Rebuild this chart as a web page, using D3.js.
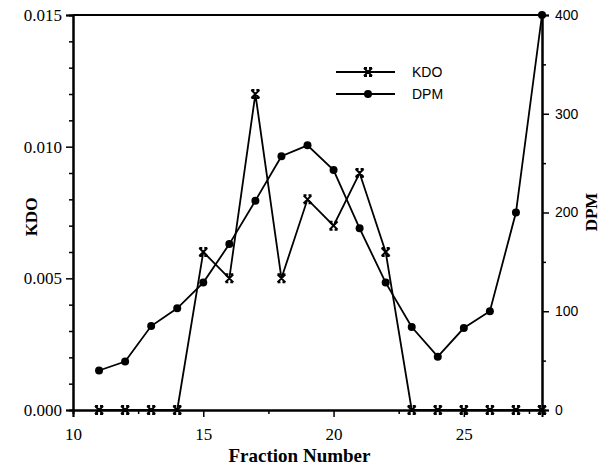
<!DOCTYPE html>
<html>
<head>
<meta charset="utf-8">
<script src="https://cdn.jsdelivr.net/npm/d3@7"></script>
<style>
  body { margin: 0; background: #fff; }
  .serif { font-family: "Liberation Serif", "DejaVu Serif", serif; }
  .sans { font-family: "Liberation Sans", Arial, sans-serif; }
</style>
</head>
<body>
<div id="chart"></div>
<script>
// fraction numbers on the x axis
let fractions = [11, 12, 13, 14, 15, 16, 17, 18, 19, 20, 21, 22, 23, 24, 25, 26, 27, 28];
// KDO (left axis)
let kdo = [0, 0, 0, 0, 0.006, 0.005, 0.012, 0.005, 0.008, 0.007, 0.009, 0.006, 0, 0, 0, 0, 0, 0];
// DPM (right axis)
let dpm = [40, 49, 85, 103, 129, 168, 212, 257, 268, 243, 184, 129, 84, 54, 83, 100, 200, 400];

let xTicks = [10, 15, 20, 25];
let xMinor = [12.5, 17.5, 22.5, 27.5];
let kdoTicks = [0, 0.005, 0.010, 0.015];
let kdoMinor = [0.001, 0.002, 0.003, 0.004, 0.006, 0.007, 0.008, 0.009, 0.011, 0.012, 0.013, 0.014];
let dpmTicks = [0, 100, 200, 300, 400];
let dpmMinor = [50, 150, 250, 350];

let width = 603, height = 467;
let plotLeft = 73, plotRight = 542, plotTop = 15, plotBottom = 410;

let svg = d3.select("#chart").append("svg")
    .attr("width", width)
    .attr("height", height);

let x = d3.scaleLinear().domain([10, 28]).range([plotLeft, plotRight]);
let yK = d3.scaleLinear().domain([0, 0.015]).range([plotBottom, plotTop]);
let yD = d3.scaleLinear().domain([0, 400]).range([plotBottom, plotTop]);

// minor ticks first, then major axes with labels
svg.append("g")
    .attr("transform", "translate(0," + plotBottom + ")")
    .call(d3.axisBottom(x).tickValues(xMinor).tickSize(4).tickFormat(""));
svg.append("g")
    .attr("transform", "translate(" + plotLeft + ",0)")
    .call(d3.axisLeft(yK).tickValues(kdoMinor).tickSize(4).tickFormat(""));
svg.append("g")
    .attr("transform", "translate(" + plotRight + ",0)")
    .call(d3.axisRight(yD).tickValues(dpmMinor).tickSize(4).tickFormat(""));

let xAxis = svg.append("g")
    .attr("class", "serif")
    .attr("transform", "translate(0," + plotBottom + ")")
    .call(d3.axisBottom(x).tickValues(xTicks).tickSize(7).tickPadding(11).tickFormat(d3.format("d")));

let kAxis = svg.append("g")
    .attr("class", "serif")
    .attr("transform", "translate(" + plotLeft + ",0)")
    .call(d3.axisLeft(yK).tickValues(kdoTicks).tickSize(7).tickPadding(4).tickFormat(d3.format(".3f")));

let dAxis = svg.append("g")
    .attr("class", "sans")
    .attr("transform", "translate(" + plotRight + ",0)")
    .call(d3.axisRight(yD).tickValues(dpmTicks).tickSize(7).tickPadding(6).tickFormat(d3.format("d")));

svg.selectAll(".domain").attr("stroke-width", 2);
svg.selectAll(".tick line").attr("stroke-width", 1.5);
svg.selectAll("g").attr("font-family", null);
xAxis.selectAll("text").attr("font-size", 17);
kAxis.selectAll("text").attr("font-size", 17);
dAxis.selectAll("text").attr("font-size", 14);

// top frame line
svg.append("line")
    .attr("x1", plotLeft).attr("x2", plotRight)
    .attr("y1", plotTop).attr("y2", plotTop)
    .attr("stroke", "#000").attr("stroke-width", 2);

// axis titles
svg.append("text")
    .attr("class", "serif")
    .attr("x", (plotLeft + plotRight) / 2 - 8).attr("y", 462)
    .attr("text-anchor", "middle")
    .attr("font-size", 19).attr("font-weight", "bold")
    .text("Fraction Number");

svg.append("text")
    .attr("class", "serif")
    .attr("transform", "translate(37,217) rotate(-90)")
    .attr("text-anchor", "middle")
    .attr("font-size", 17).attr("font-weight", "bold")
    .text("KDO");

svg.append("text")
    .attr("class", "serif")
    .attr("transform", "translate(597,212) rotate(-90)")
    .attr("text-anchor", "middle")
    .attr("font-size", 17).attr("font-weight", "bold")
    .text("DPM");

let kdoData = fractions.map((f, i) => ({f: f, v: kdo[i]}));
let dpmData = fractions.map((f, i) => ({f: f, v: dpm[i]}));

let kLine = d3.line().x(d => x(d.f)).y(d => yK(d.v));
let dLine = d3.line().x(d => x(d.f)).y(d => yD(d.v));

svg.append("path")
    .datum(kdoData)
    .attr("fill", "none")
    .attr("stroke", "#000")
    .attr("stroke-width", 1.8)
    .attr("d", kLine);

svg.append("path")
    .datum(dpmData)
    .attr("fill", "none")
    .attr("stroke", "#000")
    .attr("stroke-width", 1.8)
    .attr("d", dLine);

// x marker with little caps, like the original
let crossPath = "M-4,-4L4,4M4,-4L-4,4M-4,-4L-1,-4M1,-4L4,-4M-4,4L-1,4M1,4L4,4";

svg.selectAll(".kdo-mark")
    .data(kdoData)
    .enter().append("path")
    .attr("class", "kdo-mark")
    .attr("transform", d => "translate(" + x(d.f) + "," + yK(d.v) + ")")
    .attr("d", crossPath)
    .attr("fill", "none")
    .attr("stroke", "#000")
    .attr("stroke-width", 2);

svg.selectAll(".dpm-mark")
    .data(dpmData)
    .enter().append("circle")
    .attr("class", "dpm-mark")
    .attr("cx", d => x(d.f))
    .attr("cy", d => yD(d.v))
    .attr("r", 4)
    .attr("fill", "#000");

// legend
let legend = svg.append("g").attr("class", "sans");
let legendItems = [{label: "KDO", y: 72}, {label: "DPM", y: 94}];

legend.selectAll("line")
    .data(legendItems)
    .enter().append("line")
    .attr("x1", 336).attr("x2", 395)
    .attr("y1", d => d.y).attr("y2", d => d.y)
    .attr("stroke", "#000").attr("stroke-width", 1.8);

legend.append("path")
    .attr("transform", "translate(368," + legendItems[0].y + ")")
    .attr("d", crossPath)
    .attr("fill", "none").attr("stroke", "#000").attr("stroke-width", 2);

legend.append("circle")
    .attr("cx", 368).attr("cy", legendItems[1].y)
    .attr("r", 4).attr("fill", "#000");

legend.selectAll("text")
    .data(legendItems)
    .enter().append("text")
    .attr("x", 412)
    .attr("y", d => d.y + 5)
    .attr("font-size", 14)
    .text(d => d.label);
</script>
</body>
</html>
